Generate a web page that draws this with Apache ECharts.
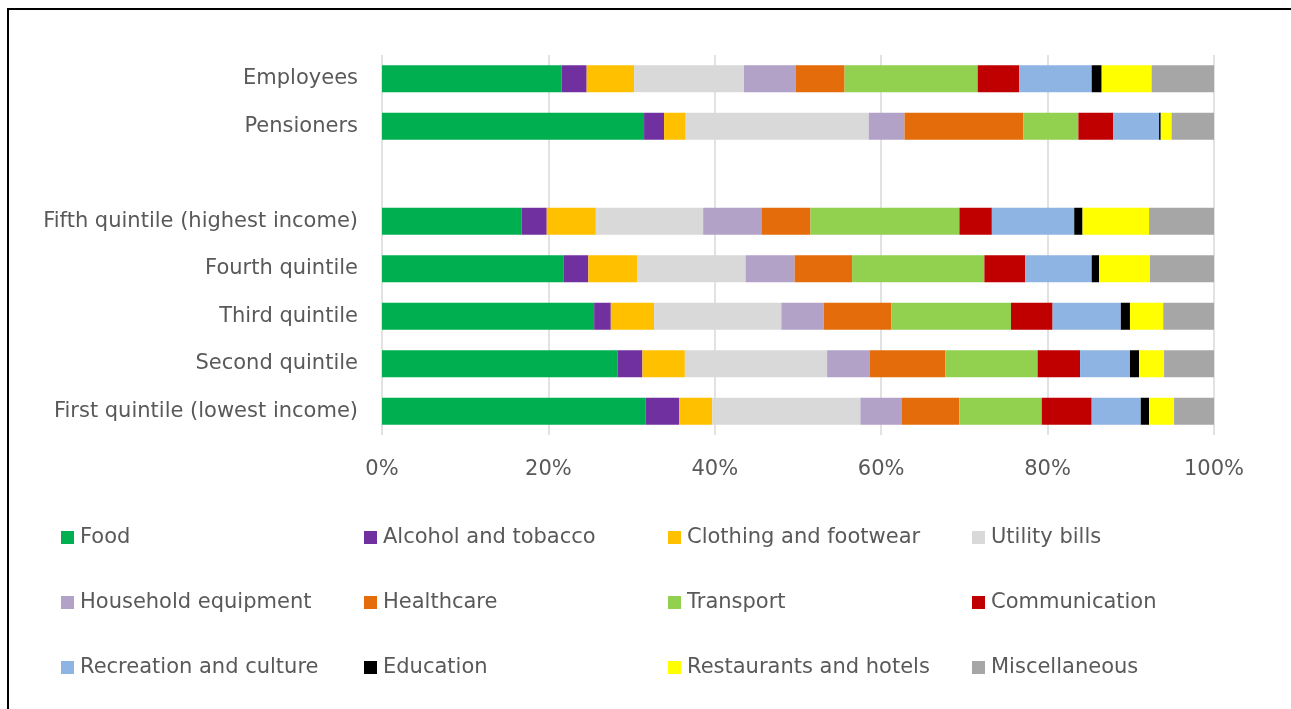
<!DOCTYPE html>
<html>
<head>
<meta charset="utf-8">
<script src="https://cdn.jsdelivr.net/npm/echarts@6/dist/echarts.min.js"></script>
<style>
html,body{margin:0;padding:0;background:#fff;overflow:hidden;}
#frame{position:absolute;left:7px;top:8px;width:1400px;height:800px;border-top:2px solid #000;border-left:2px solid #000;}
#chart{position:absolute;left:0;top:0;width:1291px;height:709px;}
</style>
</head>
<body>
<div id="frame"></div>
<div id="chart"></div>
<script>
const categories = ['Employees','Pensioners','','Fifth quintile (highest income)','Fourth quintile','Third quintile','Second quintile','First quintile (lowest income)'];
const tickLabels = ['0%','20%','40%','60%','80%','100%'];
const seriesNames = ['Food','Alcohol and tobacco','Clothing and footwear','Utility bills','Household equipment','Healthcare','Transport','Communication','Recreation and culture','Education','Restaurants and hotels','Miscellaneous'];
const food          = [21.6, 31.5, null, 16.8, 21.8, 25.5, 28.3, 31.7];
const alcohol       = [3.0, 2.4, null, 3.0, 3.0, 2.0, 3.0, 4.0];
const clothing      = [5.7, 2.6, null, 5.9, 5.9, 5.2, 5.1, 4.0];
const utility       = [13.2, 22.0, null, 12.9, 13.0, 15.3, 17.1, 17.8];
const household     = [6.2, 4.3, null, 7.0, 5.9, 5.1, 5.1, 5.0];
const healthcare    = [5.9, 14.3, null, 5.9, 6.9, 8.1, 9.1, 6.9];
const transport     = [16.0, 6.6, null, 17.9, 15.9, 14.4, 11.1, 9.9];
const communication = [5.0, 4.2, null, 3.9, 4.9, 5.0, 5.1, 6.0];
const recreation    = [8.7, 5.5, null, 9.9, 8.0, 8.2, 6.0, 5.9];
const education     = [1.2, 0.2, null, 1.0, 0.9, 1.1, 1.1, 1.0];
const restaurants   = [6.0, 1.3, null, 8.0, 6.1, 4.0, 3.0, 3.0];
const misc          = [7.5, 5.1, null, 7.8, 7.7, 6.1, 6.0, 4.8];

const values = [food, alcohol, clothing, utility, household, healthcare, transport, communication, recreation, education, restaurants, misc];
const colors = ['#00B050','#7030A0','#FFC000','#D9D9D9','#B3A2C7','#E46C0A','#92D050','#C00000','#8EB4E3','#000000','#FFFF00','#A6A6A6'];

const FONT = '"DejaVu Sans", sans-serif';
const FS = 21;
const TXT = '#595959';

const chart = echarts.init(document.getElementById('chart'), null, {renderer:'canvas'});

const series = seriesNames.map((n, i) => ({
  name: n,
  type: 'bar',
  stack: 'total',
  barWidth: 27,
  itemStyle: {color: colors[i]},
  data: values[i]
}));

const colLefts = [61, 364, 668, 972];
const legends = colLefts.map((l, c) => ({
  orient: 'vertical',
  left: l,
  top: 527,
  padding: 0,
  itemWidth: 13,
  itemHeight: 13,
  itemGap: 44,
  icon: 'rect',
  selectedMode: false,
  textStyle: {fontFamily: FONT, fontSize: FS, color: TXT, lineHeight: 21, padding: [0,0,0,1]},
  data: [seriesNames[c], seriesNames[c+4], seriesNames[c+8]]
}));

chart.setOption({
  animation: false,
  backgroundColor: 'transparent',
  grid: {left: 382, right: 77, top: 55, height: 380, containLabel: false},
  legend: legends,
  xAxis: {
    type: 'value',
    min: 0, max: 100, interval: 20,
    axisLine: {show: false},
    axisTick: {show: false},
    splitLine: {lineStyle: {color: '#D9D9D9', width: 1.5}},
    axisLabel: {
      margin: 24,
      fontFamily: FONT, fontSize: FS, color: TXT,
      formatter: (v) => tickLabels[Math.round(v/20)]
    }
  },
  yAxis: {
    type: 'category',
    inverse: true,
    data: categories,
    axisLine: {show: false},
    axisTick: {show: false},
    axisLabel: {margin: 24, fontFamily: FONT, fontSize: FS, color: TXT, padding: [4,0,0,0]}
  },
  series: series
});
</script>
</body>
</html>
